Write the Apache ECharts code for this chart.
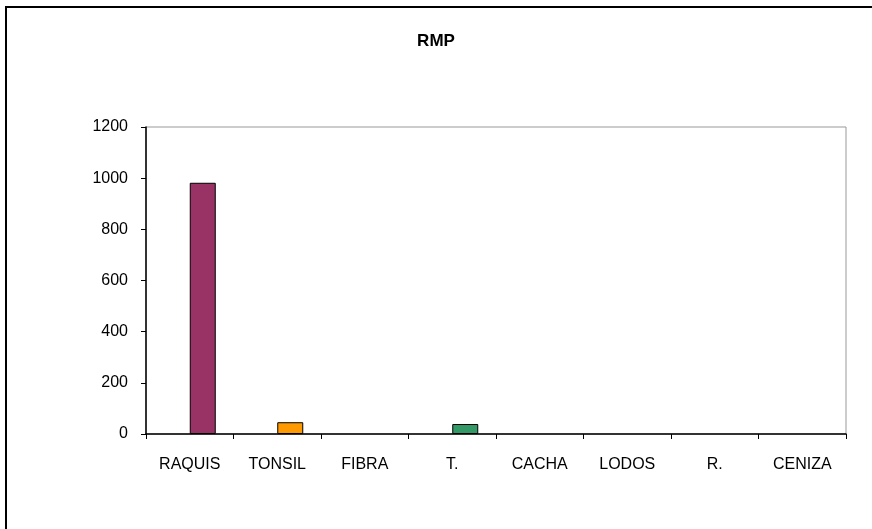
<!DOCTYPE html>
<html>
<head>
<meta charset="utf-8">
<script src="https://cdn.jsdelivr.net/npm/echarts@6/dist/echarts.min.js"></script>
<style>
html,body{margin:0;padding:0;background:#fff;}
#chart{width:872px;height:529px;}
</style>
</head>
<body>
<div id="chart"></div>
<script>
var categories = ['RAQUIS', 'TONSIL', 'FIBRA', 'T.', 'CACHA', 'LODOS', 'R.', 'CENIZA'];
var values = [982, 46, 0, 39, 0, 0, 0, 0];
var blankSeries = [null, null, null, null, null, null, null, null];
var barColors = ['#993366', '#FF9900', '#FFFFCC', '#339966', '#CCFFFF', '#660066', '#FF8080', '#0066CC'];
var yTicks = [0, 200, 400, 600, 800, 1000, 1200];

var chart = echarts.init(document.getElementById('chart'));
var font = 'Liberation Sans, Arial, sans-serif';
chart.setOption({
  animation: false,
  backgroundColor: '#fff',
  title: {
    text: 'RMP',
    left: 'center',
    top: 28,
    textStyle: {fontFamily: font, fontSize: 17, fontWeight: 'bold', color: '#000'}
  },
  graphic: [{
    type: 'rect',
    shape: {x: 6, y: 7, width: 900, height: 600},
    style: {fill: 'none', stroke: '#000', lineWidth: 2},
    silent: true
  }, {
    type: 'rect',
    shape: {x: 146, y: 127, width: 700, height: 307},
    style: {fill: 'none', stroke: '#999', lineWidth: 1},
    silent: true,
    z: 0
  }],
  grid: {left: 146, top: 127, width: 700, height: 307, containLabel: false},
  xAxis: {
    type: 'category',
    data: categories,
    axisLine: {lineStyle: {color: '#000', width: 1.5}},
    axisTick: {show: true, length: 5, lineStyle: {color: '#000'}},
    axisLabel: {fontFamily: font, fontSize: 16, color: '#000', margin: 23, interval: 0}
  },
  yAxis: {
    type: 'value',
    min: yTicks[0],
    max: yTicks[yTicks.length - 1],
    interval: 200,
    axisLine: {show: true, lineStyle: {color: '#000', width: 1.5}},
    axisTick: {show: true, length: 5, lineStyle: {color: '#000'}},
    splitLine: {show: false},
    axisLabel: {fontFamily: font, fontSize: 16, color: '#000', margin: 18,
      formatter: function (v) { return String(v); }}
  },
  series: [{
    type: 'bar',
    data: blankSeries,
    barWidth: 26,
    barGap: '0%'
  }, {
    type: 'bar',
    data: values.map(function (v, i) {
      return {value: v, itemStyle: {color: barColors[i], borderWidth: v === 0 ? 0 : 1}};
    }),
    barWidth: 26,
    barGap: '0%',
    z: 1,
    itemStyle: {borderColor: '#000', borderWidth: 1}
  }]
});
</script>
</body>
</html>
